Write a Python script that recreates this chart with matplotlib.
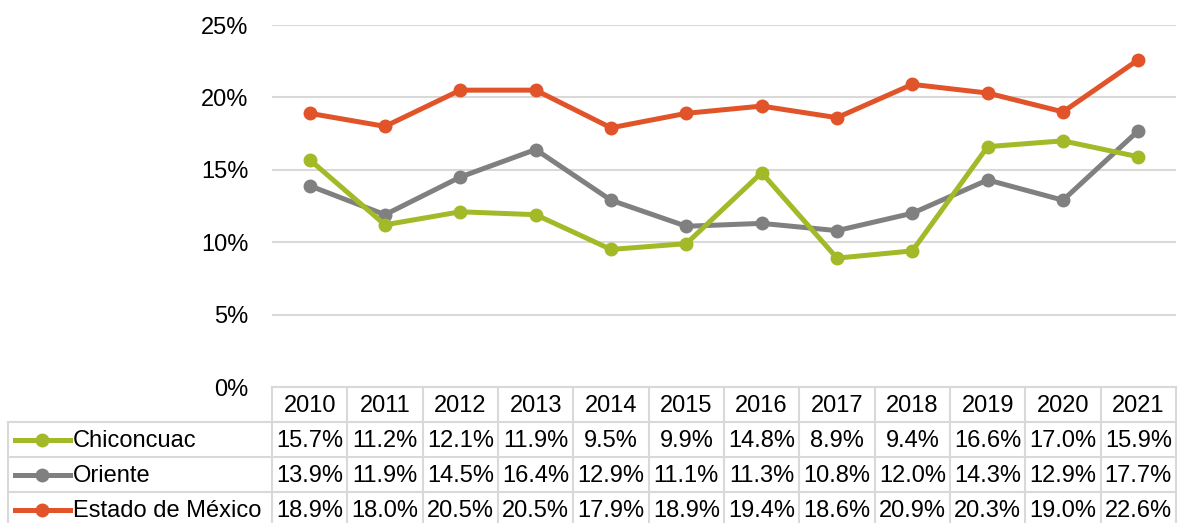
import matplotlib.pyplot as plt
from matplotlib.lines import Line2D
from matplotlib.ticker import FuncFormatter

plt.rcParams['font.family'] = ['Liberation Sans', 'DejaVu Sans']

years = ['2010', '2011', '2012', '2013', '2014', '2015',
         '2016', '2017', '2018', '2019', '2020', '2021']
series_names = ['Chiconcuac', 'Oriente', 'Estado de México']
chiconcuac = [15.7, 11.2, 12.1, 11.9, 9.5, 9.9, 14.8, 8.9, 9.4, 16.6, 17.0, 15.9]
oriente = [13.9, 11.9, 14.5, 16.4, 12.9, 11.1, 11.3, 10.8, 12.0, 14.3, 12.9, 17.7]
edomex = [18.9, 18.0, 20.5, 20.5, 17.9, 18.9, 19.4, 18.6, 20.9, 20.3, 19.0, 22.6]
colors = ['#A4B927', '#808080', '#E1542A']
grid_col = '#D9D9D9'
fs = 17

W, H = 1180, 523
fig = plt.figure(figsize=(W / 100, H / 100), dpi=100)

# pixel layout
x0, x1 = 272, 1176
y_top, y_zero = 25, 387
col_w = (x1 - x0) / len(years)

ax = fig.add_axes([x0 / W, 1 - y_zero / H, (x1 - x0) / W, (y_zero - y_top) / H])
xs = list(range(len(years)))
# green drawn over grey like the original
for vals, c, z in zip([chiconcuac, oriente, edomex], colors, [4, 3, 5]):
    ax.plot(xs, [v / 100 for v in vals], color=c, lw=3.6, marker='o', ms=9,
            solid_capstyle='round', zorder=z)

ax.set_xlim(-0.5, len(years) - 0.5)
ax.set_ylim(0, 0.25)
ax.set_yticks([0, 0.05, 0.10, 0.15, 0.20, 0.25])
ax.yaxis.set_major_formatter(FuncFormatter(lambda v, p: '%d%%' % round(v * 100)))
ax.set_xticks([])
ax.tick_params(axis='y', length=0, pad=17, labelsize=fs)
ax.grid(True, axis='y', color=grid_col, lw=1.5)
ax.set_axisbelow(True)
for s in ax.spines.values():
    s.set_visible(False)

# data table underneath
row_h = 35
tb_h = H - y_zero
tax = fig.add_axes([x0 / W, 0, (x1 - x0) / W, tb_h / H])
tax.set_xlim(-0.5, len(years) - 0.5)
tax.set_ylim(tb_h / row_h, 0)
tax.axis('off')

def px2x(px):
    return -0.5 + (px - x0) / col_w

left = px2x(8)
nrow = len(series_names) + 1
lkw = dict(color=grid_col, lw=1.5, clip_on=False)
tax.plot([-0.5, len(years) - 0.5], [0, 0], **lkw)
for r in range(1, nrow):
    tax.plot([left, len(years) - 0.5], [r, r], **lkw)
for k in range(len(years) + 1):
    tax.plot([k - 0.5, k - 0.5], [0, nrow], **lkw)
tax.plot([left, left], [1, nrow], **lkw)

for k, y in enumerate(years):
    tax.text(k, 0.55, y, ha='center', va='center', fontsize=fs)

for r, (name, vals, c) in enumerate(zip(series_names, [chiconcuac, oriente, edomex], colors)):
    yy = r + 1.5
    tax.add_line(Line2D([px2x(15), px2x(70)], [yy, yy], color=c, lw=3.6, clip_on=False))
    tax.add_line(Line2D([px2x(42)], [yy], color=c, marker='o', ms=9, clip_on=False))
    tax.text(px2x(73), yy + 0.05, name, ha='left', va='center', fontsize=fs)
    for k, v in enumerate(vals):
        tax.text(k, yy + 0.05, '%.1f%%' % v, ha='center', va='center', fontsize=fs)

fig.savefig('out.png', dpi=100)
